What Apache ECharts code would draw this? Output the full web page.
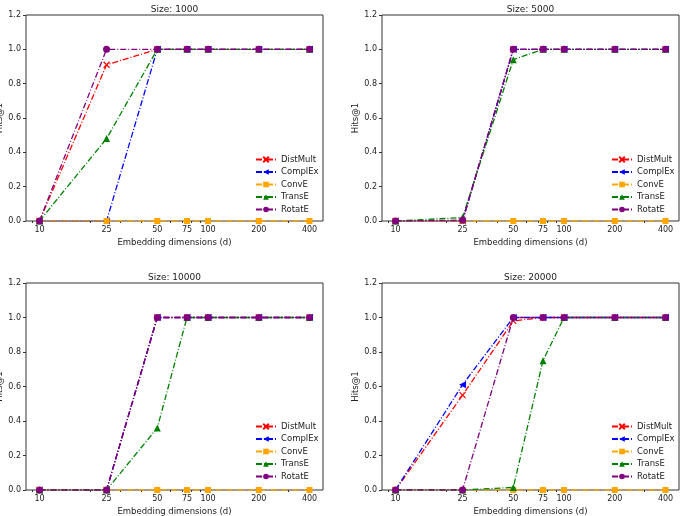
<!DOCTYPE html>
<html>
<head>
<meta charset="utf-8">
<script src="https://cdn.jsdelivr.net/npm/echarts@6/dist/echarts.min.js"></script>
<style>
  html, body { margin: 0; padding: 0; background: #fff; }
  #chart { width: 680px; height: 516px; }
</style>
</head>
<body>
<div id="chart"></div>
<script>
// x values (embedding dimensions) and tick values
var dims = [10, 25, 50, 75, 100, 200, 400];
var majorTicks = [10, 25, 50, 75, 100, 200, 400];
var minorTicks = [9, 20, 30, 40, 60, 70, 80, 90, 300];

var models = ['DistMult', 'ComplEx', 'ConvE', 'TransE', 'RotatE'];
var sizes = ['Size: 1000', 'Size: 5000', 'Size: 10000', 'Size: 20000'];

// Hits@1 per model, one row per dataset size
var distMult = [
  [0, 0.91, 1, 1, 1, 1, 1],
  [0, 0, 1, 1, 1, 1, 1],
  [0, 0, 1, 1, 1, 1, 1],
  [0, 0.55, 0.98, 1, 1, 1, 1]
];
var complEx = [
  [0, 0, 1, 1, 1, 1, 1],
  [0, 0, 1, 1, 1, 1, 1],
  [0, 0, 1, 1, 1, 1, 1],
  [0, 0.61, 1, 1, 1, 1, 1]
];
var convE = [
  [0, 0, 0, 0, 0, 0, 0],
  [0, 0, 0, 0, 0, 0, 0],
  [0, 0, 0, 0, 0, 0, 0],
  [0, 0, 0, 0, 0, 0, 0]
];
var transE = [
  [0, 0.48, 1, 1, 1, 1, 1],
  [0, 0.02, 0.94, 1, 1, 1, 1],
  [0, 0, 0.36, 1, 1, 1, 1],
  [0, 0, 0.015, 0.75, 1, 1, 1]
];
var rotatE = [
  [0, 1, 1, 1, 1, 1, 1],
  [0, 0.005, 1, 1, 1, 1, 1],
  [0, 0, 1, 1, 1, 1, 1],
  [0, 0, 1, 1, 1, 1, 1]
];
var allData = [distMult, complEx, convE, transE, rotatE];

var colors = ['#ff0000', '#0000ff', '#ffa500', '#008000', '#800080'];
var symbols = ['path://M0,0L10,10M10,0L0,10', 'triangle', 'rect', 'triangle', 'circle'];
var symbolRot = [0, 90, 0, 0, 0];
var symbolSizes = [6, 7, 6, 7, 7];

var grids = [
  { left: 26, top: 15, width: 297, height: 206 },
  { left: 382, top: 15, width: 297, height: 206 },
  { left: 26, top: 283, width: 297, height: 207 },
  { left: 382, top: 283, width: 297, height: 207 }
];
var legendPos = [
  { left: 255, top: 154 },
  { left: 611, top: 154 },
  { left: 255, top: 421 },
  { left: 611, top: 421 }
];

var xMin = Math.pow(10, 1 - 0.08);
var xMax = Math.pow(10, Math.log10(400) + 0.08);
var font = 'DejaVu Sans';
var txt = '#222';

var option = {
  backgroundColor: '#fff',
  animation: false,
  title: [], grid: [], xAxis: [], yAxis: [], legend: [], series: []
};

grids.forEach(function (g, i) {
  option.grid.push({
    left: g.left, top: g.top, width: g.width, height: g.height,
    outerBoundsMode: 'none', containLabel: false,
    show: true, borderColor: '#333', borderWidth: 1, backgroundColor: '#fff'
  });
  option.title.push({
    text: sizes[i],
    left: g.left + g.width / 2, top: g.top - 10,
    padding: 0,
    textAlign: 'center',
    textStyle: { fontFamily: font, fontSize: 9, fontWeight: 'normal', color: txt }
  });
  // major x axis
  option.xAxis.push({
    type: 'log', logBase: 10, gridIndex: i, min: xMin, max: xMax,
    name: 'Embedding dimensions (d)', nameLocation: 'middle', nameGap: 17,
    nameTextStyle: { fontFamily: font, fontSize: 8.5, color: txt },
    axisLine: { show: false },
    splitLine: { show: false },
    axisTick: { show: true, length: 3, lineStyle: { color: '#333' }, customValues: majorTicks },
    axisLabel: { fontFamily: font, fontSize: 8, color: txt, margin: 5, customValues: majorTicks,
      formatter: function (v) { return String(Math.round(v)); } }
  });
  // minor ticks
  option.xAxis.push({
    type: 'log', logBase: 10, gridIndex: i, min: xMin, max: xMax, position: 'bottom',
    axisLine: { show: false },
    splitLine: { show: false },
    axisTick: { show: true, length: 2, lineStyle: { color: '#333' }, customValues: minorTicks },
    axisLabel: { show: false }
  });
  option.yAxis.push({
    type: 'value', gridIndex: i, min: 0, max: 1.2, interval: 0.2,
    name: 'Hits@1', nameLocation: 'middle', nameGap: 21, nameRotate: 90,
    nameTextStyle: { fontFamily: font, fontSize: 8.5, color: txt },
    axisLine: { show: false },
    splitLine: { show: false },
    axisTick: { show: true, length: 3, lineStyle: { color: '#333' } },
    axisLabel: { fontFamily: font, fontSize: 8, color: txt, margin: 5,
      formatter: function (v) { return v.toFixed(1); } }
  });
  option.legend.push({
    data: models,
    orient: 'vertical',
    left: legendPos[i].left, top: legendPos[i].top,
    padding: 0,
    itemWidth: 20, itemHeight: 7, itemGap: 1.5,
    textStyle: { fontFamily: font, fontSize: 8.5, color: txt, lineHeight: 11 },
    selectedMode: false
  });
  models.forEach(function (m, k) {
    option.series.push({
      name: m,
      type: 'line',
      xAxisIndex: i * 2,
      yAxisIndex: i,
      data: dims.map(function (d, j) { return [d, allData[k][i][j]]; }),
      symbol: symbols[k],
      symbolSize: symbolSizes[k],
      symbolRotate: symbolRot[k],
      showAllSymbol: true,
      lineStyle: { color: colors[k], width: 1.3, type: [6, 2, 1, 2] },
      itemStyle: { color: colors[k], borderColor: colors[k], borderWidth: k === 0 ? 1.2 : 0 },
      z: 2 + k
    });
  });
});

var chart = echarts.init(document.getElementById('chart'));
chart.setOption(option);
</script>
</body>
</html>
